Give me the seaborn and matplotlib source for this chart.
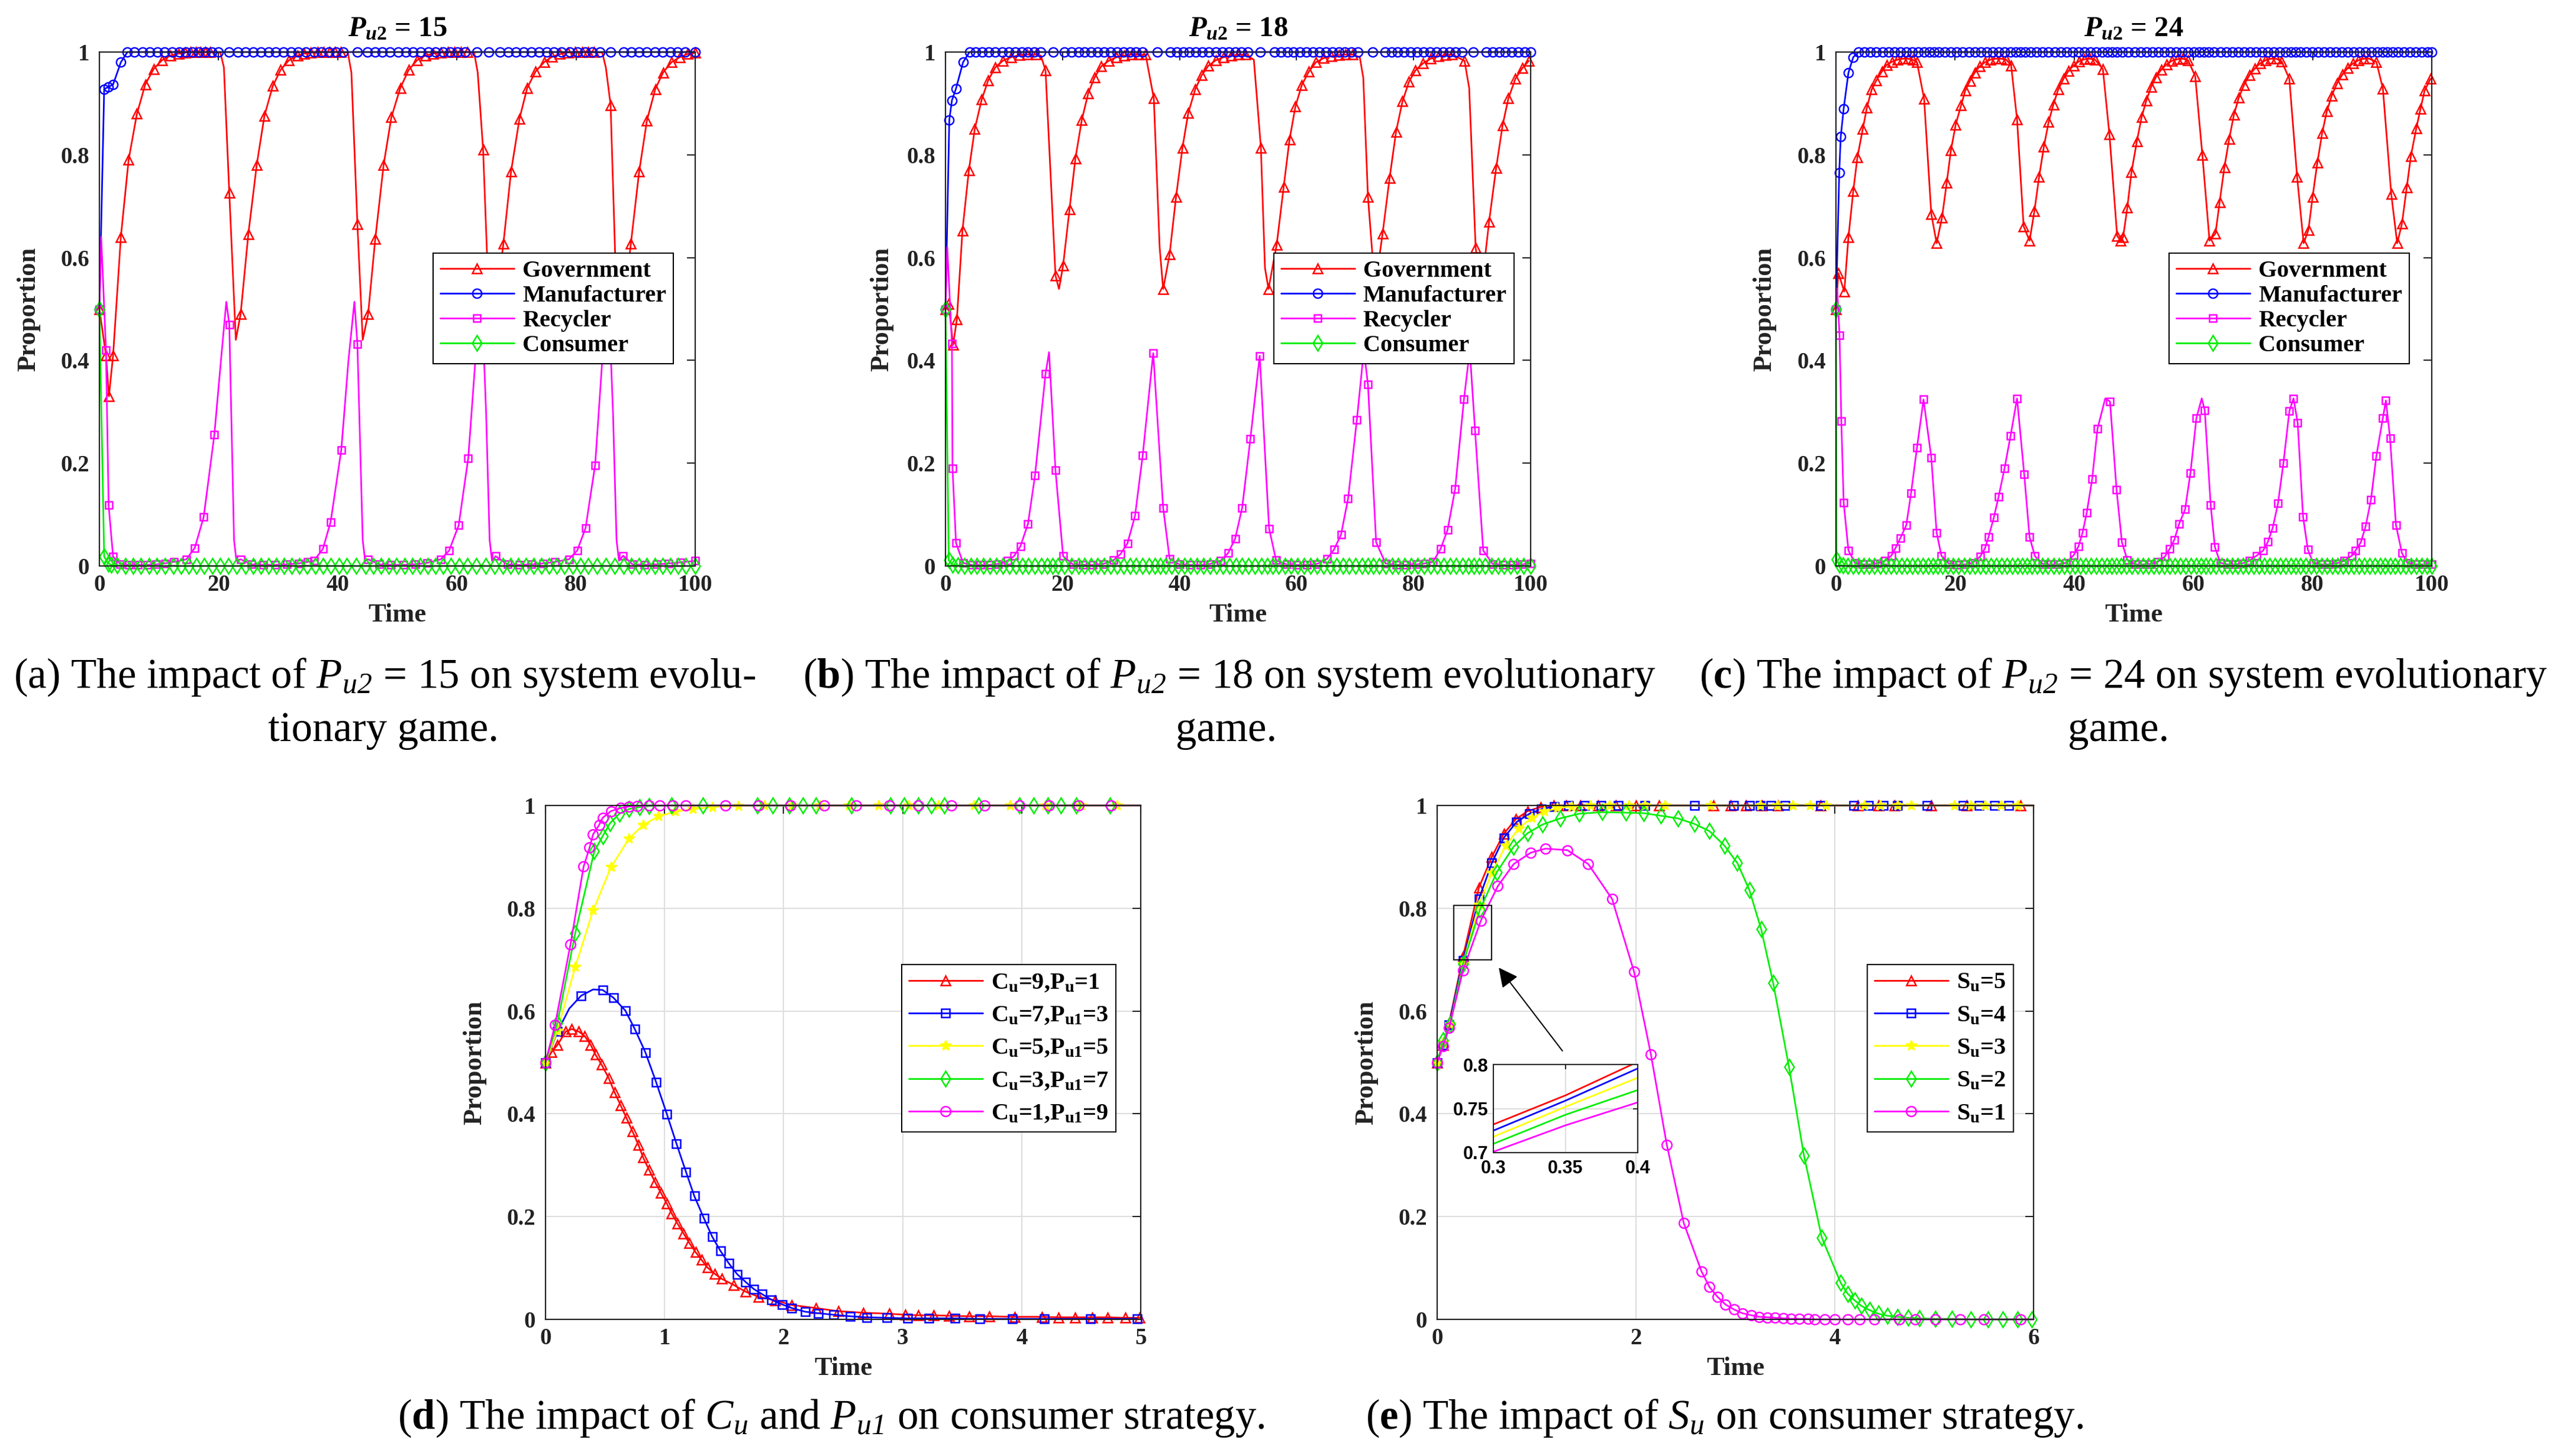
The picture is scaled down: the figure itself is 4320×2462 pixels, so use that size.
import numpy as np
import matplotlib
matplotlib.use('Agg')
import matplotlib.pyplot as plt
import seaborn as sns
from matplotlib.lines import Line2D
from matplotlib.patches import Rectangle

# ---------------- panel (a): P_u2 = 15 ----------------
gov_a_t = [0, 1.1, 1.6, 2.3, 3.6, 4.9, 6.3, 7.7, 9.1, 10.5,
           11.9, 13.3, 14.4, 15.3, 16.2, 17.0, 17.8, 18.6, 21.8, 23.7,
           25.0, 26.4, 27.7, 29.1, 30.4, 31.8, 33.3, 34.4, 35.5, 36.6,
           37.6, 38.6, 39.5, 40.5, 43.3, 45.1, 46.3, 47.7, 49.0, 50.5,
           51.9, 53.3, 54.7, 56.0, 57.3, 58.5, 59.6, 60.7, 61.8, 64.4,
           67.8, 69.1, 70.5, 71.8, 73.2, 74.7, 76.0, 77.3, 78.6, 79.8,
           81.0, 82.0, 83.0, 85.8, 89.2, 90.6, 91.9, 93.3, 94.6, 96.0,
           97.4, 98.7, 100]
gov_a_y = [0.5, 0.41, 0.33, 0.41, 0.64, 0.79, 0.88, 0.937, 0.967, 0.984,
           0.993, 0.997, 0.999, 1.0, 1.0, 1.0, 1.0, 1.0, 0.726, 0.49,
           0.646, 0.78, 0.876, 0.934, 0.965, 0.984, 0.993, 0.997, 0.999, 1.0,
           1.0, 1.0, 1.0, 1.0, 0.665, 0.49, 0.636, 0.78, 0.873, 0.93,
           0.965, 0.984, 0.993, 0.997, 0.999, 1.0, 1.0, 1.0, 1.0, 0.81,
           0.627, 0.768, 0.87, 0.93, 0.962, 0.981, 0.991, 0.996, 0.999, 1.0,
           1.0, 1.0, 1.0, 0.897, 0.627, 0.768, 0.867, 0.928, 0.96, 0.98,
           0.99, 0.996, 0.999]
gov_a_xt = [20.3, 20.9, 22.9, 41.7, 42.3, 44.2, 62.9, 63.5, 65.6, 66.5, 84.4, 85.0, 87.0, 88.0]
gov_a_xy = [0.999, 0.97, 0.44, 0.999, 0.96, 0.44, 0.999, 0.96, 0.44, 0.5, 0.999, 0.97, 0.44, 0.5]

man_a_t = [0, 0.8, 1.5, 2.3, 3.6, 4.7, 5.9, 7.2, 8.4, 9.7,
           10.9, 12.2, 13.4, 14.5, 15.6, 16.7, 17.8, 18.9, 20.0, 21.7,
           23.2, 24.5, 25.8, 27.1, 28.4, 29.6, 30.9, 32.2, 33.4, 34.7,
           36.0, 37.2, 38.5, 39.7, 40.9, 43.3, 45.0, 46.3, 47.5, 48.8,
           50.1, 51.4, 52.6, 53.9, 55.2, 56.4, 57.7, 58.9, 60.1, 61.4,
           63.4, 65.3, 67.2, 68.6, 69.9, 71.2, 72.5, 73.8, 75.1, 76.3,
           77.6, 78.9, 80.2, 81.5, 82.7, 84.0, 85.8, 88.0, 89.3, 90.6,
           91.9, 93.2, 94.5, 95.8, 97.0, 98.3, 100]
man_a_y = [0.5, 0.928, 0.932, 0.937, 0.98, 1, 1, 1, 1, 1,
           1, 1, 1, 1, 1, 1, 1, 1, 1, 1,
           1, 1, 1, 1, 1, 1, 1, 1, 1, 1,
           1, 1, 1, 1, 1, 1, 1, 1, 1, 1,
           1, 1, 1, 1, 1, 1, 1, 1, 1, 1,
           1, 1, 1, 1, 1, 1, 1, 1, 1, 1,
           1, 1, 1, 1, 1, 1, 1, 1, 1, 1,
           1, 1, 1, 1, 1, 1, 1]

rec_a_t = [0, 1.1, 1.55, 2.3, 3.5, 5.0, 6.5, 8.0, 9.5, 11.0,
           12.5, 14.6, 16.0, 17.5, 19.3, 21.8, 23.7, 25.5, 27.5, 29.5,
           31.5, 33.5, 35.0, 36.0, 37.5, 38.8, 40.6, 43.3, 45.1, 47.0,
           49.0, 51.0, 53.0, 55.0, 57.3, 58.7, 60.3, 61.9, 66.5, 68.5,
           70.5, 72.5, 74.5, 76.5, 78.8, 80.2, 81.6, 83.2, 87.9, 89.5,
           91.5, 93.5, 95.5, 97.5, 100]
rec_a_y = [0.5, 0.42, 0.118, 0.018, 0.004, 0.002, 0.002, 0.002, 0.003, 0.005,
           0.008, 0.013, 0.035, 0.095, 0.256, 0.47, 0.013, 0.003, 0.002, 0.002,
           0.003, 0.005, 0.008, 0.01, 0.033, 0.085, 0.226, 0.432, 0.013, 0.003,
           0.002, 0.002, 0.003, 0.006, 0.013, 0.03, 0.079, 0.209, 0.019, 0.003,
           0.002, 0.003, 0.005, 0.008, 0.013, 0.03, 0.074, 0.196, 0.02, 0.003,
           0.002, 0.003, 0.005, 0.007, 0.01]
rec_a_xt = [0.3, 20.4, 21.3, 22.6, 23.0, 41.8, 42.8, 44.2, 44.6, 63.1, 64.2, 64.9, 65.5, 65.9,
            84.4, 85.5, 86.2, 86.8, 87.2]
rec_a_xy = [0.64, 0.40, 0.514, 0.05, 0.01, 0.40, 0.514, 0.05, 0.01, 0.40, 0.51, 0.30, 0.05, 0.01,
            0.40, 0.51, 0.30, 0.05, 0.01]

con_a_t = [0, 0.8, 1.5, 2.0, 3.0, 4.4, 5.7, 7.0, 8.3, 9.6,
           11.0, 12.4, 13.7, 15.0, 16.3, 17.6, 19.0, 20.3, 21.6, 23.0,
           24.5, 25.8, 27.1, 28.4, 29.7, 31.0, 32.3, 33.6, 34.9, 36.2,
           37.5, 38.8, 40.2, 41.5, 43.1, 44.7, 46.0, 47.3, 48.6, 49.9,
           51.2, 52.5, 53.8, 55.1, 56.4, 57.7, 59.0, 60.4, 61.8, 63.3,
           64.8, 66.3, 67.7, 69.0, 70.3, 71.6, 72.9, 74.2, 75.5, 76.8,
           78.1, 79.4, 80.7, 82.0, 83.5, 85.0, 86.5, 88.0, 89.3, 90.6,
           91.9, 93.2, 94.5, 95.8, 97.1, 98.4, 100]
con_a_y = [0.5, 0.018, 0.005, 0.002, 0.001, 0, 0, 0, 0, 0,
           0, 0, 0, 0, 0, 0, 0, 0, 0, 0,
           0, 0, 0, 0, 0, 0, 0, 0, 0, 0,
           0, 0, 0, 0, 0, 0, 0, 0, 0, 0,
           0, 0, 0, 0, 0, 0, 0, 0, 0, 0,
           0, 0, 0, 0, 0, 0, 0, 0, 0, 0,
           0, 0, 0, 0, 0, 0, 0, 0, 0, 0,
           0, 0, 0, 0, 0, 0, 0]

# ---------------- panel (b): P_u2 = 18 ----------------
gov_b_t = [0, 0.55, 1.3, 1.95, 2.9, 4.0, 5.0, 6.2, 7.3, 8.5,
           9.8, 11.2, 12.6, 14.0, 15.5, 17.1, 18.8, 20.1, 21.2, 22.2,
           23.3, 24.4, 25.5, 26.6, 27.9, 29.2, 30.5, 31.8, 33.0, 34.2,
           35.6, 37.2, 38.3, 39.4, 40.5, 41.5, 42.7, 43.8, 44.9, 46.2,
           47.5, 48.8, 50.0, 51.3, 53.9, 55.2, 56.6, 57.8, 58.8, 59.8,
           60.9, 62.1, 63.3, 64.6, 65.9, 67.2, 68.4, 69.6, 72.2, 74.7,
           75.9, 77.0, 78.1, 79.2, 80.3, 81.6, 82.9, 84.2, 85.4, 86.6,
           88.7, 90.6, 92.9, 94.1, 95.2, 96.2, 97.4, 98.6, 99.7]
gov_b_y = [0.5, 0.51, 0.43, 0.48, 0.653, 0.77, 0.85, 0.908, 0.945, 0.97,
           0.983, 0.99, 0.994, 0.995, 0.995, 0.964, 0.565, 0.585, 0.694, 0.793,
           0.868, 0.92, 0.951, 0.972, 0.983, 0.99, 0.993, 0.995, 0.995, 0.995,
           0.91, 0.539, 0.606, 0.718, 0.814, 0.882, 0.928, 0.955, 0.973, 0.984,
           0.99, 0.993, 0.995, 0.995, 0.814, 0.539, 0.625, 0.738, 0.83, 0.894,
           0.936, 0.962, 0.98, 0.988, 0.992, 0.994, 0.995, 0.995, 0.718, 0.647,
           0.755, 0.845, 0.904, 0.942, 0.964, 0.978, 0.987, 0.992, 0.994, 0.995,
           0.983, 0.619, 0.67, 0.774, 0.857, 0.91, 0.948, 0.969, 0.983]
gov_b_xt = [16.3, 19.4, 36.6, 52.7, 54.6, 70.8, 71.4, 73.4, 89.5, 91.6]
gov_b_xy = [0.993, 0.539, 0.62, 0.985, 0.58, 0.99, 0.95, 0.54, 0.93, 0.54]

man_b_t = [0, 0.65, 1.1, 1.8, 3.0, 4.1, 5.2, 6.3, 7.4, 8.5,
           9.7, 10.8, 11.9, 13.0, 14.1, 15.2, 16.3, 18.4, 20.3, 21.5,
           22.7, 23.8, 24.9, 26.0, 27.1, 28.2, 29.3, 30.4, 31.5, 32.6,
           33.7, 36.2, 38.4, 39.5, 40.6, 41.7, 42.8, 43.9, 45.0, 46.2,
           47.3, 48.4, 49.5, 50.6, 51.7, 53.8, 56.2, 57.3, 58.4, 59.5,
           60.6, 61.7, 62.8, 63.9, 65.0, 66.1, 67.2, 68.3, 69.4, 70.5,
           73.0, 75.1, 76.2, 77.3, 78.4, 79.5, 80.6, 81.7, 82.8, 83.9,
           85.0, 86.1, 87.2, 88.3, 90.2, 92.4, 93.5, 94.6, 95.7, 96.8,
           97.9, 99.0, 100]
man_b_y = [0.5, 0.868, 0.906, 0.929, 0.98, 1, 1, 1, 1, 1,
           1, 1, 1, 1, 1, 1, 1, 1, 1, 1,
           1, 1, 1, 1, 1, 1, 1, 1, 1, 1,
           1, 1, 1, 1, 1, 1, 1, 1, 1, 1,
           1, 1, 1, 1, 1, 1, 1, 1, 1, 1,
           1, 1, 1, 1, 1, 1, 1, 1, 1, 1,
           1, 1, 1, 1, 1, 1, 1, 1, 1, 1,
           1, 1, 1, 1, 1, 1, 1, 1, 1, 1,
           1, 1, 1]

rec_b_t = [0, 1.1, 1.2, 1.8, 3.0, 4.5, 6.0, 7.5, 9.0, 10.6,
           11.7, 12.8, 14.1, 15.3, 17.1, 18.8, 20.1, 21.8, 23.5, 25.2,
           27.0, 28.7, 29.9, 31.1, 32.4, 33.7, 35.5, 37.2, 38.3, 40.0,
           41.8, 43.6, 45.3, 47.0, 48.3, 49.5, 50.7, 52.1, 53.7, 55.3,
           56.5, 58.3, 60.0, 61.8, 63.5, 65.2, 66.4, 67.6, 68.8, 70.3,
           72.2, 73.6, 75.2, 77.0, 78.8, 80.5, 82.0, 83.3, 84.6, 85.8,
           87.1, 88.6, 90.5, 91.9, 93.5, 95.2, 97.0, 98.5, 100]
rec_b_y = [0.5, 0.433, 0.19, 0.045, 0.006, 0.002, 0.002, 0.002, 0.004, 0.01,
           0.019, 0.038, 0.082, 0.176, 0.374, 0.186, 0.019, 0.003, 0.002, 0.002,
           0.004, 0.011, 0.023, 0.044, 0.098, 0.215, 0.414, 0.113, 0.014, 0.003,
           0.002, 0.002, 0.004, 0.01, 0.025, 0.053, 0.113, 0.247, 0.409, 0.073,
           0.011, 0.003, 0.002, 0.002, 0.004, 0.014, 0.032, 0.061, 0.131, 0.284,
           0.353, 0.046, 0.005, 0.002, 0.002, 0.003, 0.005, 0.008, 0.033, 0.07,
           0.15, 0.324, 0.263, 0.03, 0.004, 0.002, 0.002, 0.003, 0.005]
rec_b_xt = [0.3, 17.7, 71.5, 89.6]
rec_b_xy = [0.62, 0.416, 0.42, 0.42]

con_b_t = [0, 0.56, 1.2, 2.1, 3.2, 4.3, 5.4, 6.5, 7.6, 8.7,
           9.8, 10.9, 12.0, 13.1, 14.2, 15.3, 16.4, 17.4, 18.3, 19.2,
           20.3, 21.5, 22.7, 23.8, 24.9, 26.0, 27.1, 28.2, 29.3, 30.4,
           31.5, 32.6, 33.7, 34.8, 35.8, 36.7, 37.6, 38.6, 39.7, 40.8,
           41.9, 43.0, 44.1, 45.2, 46.3, 47.4, 48.5, 49.6, 50.7, 51.8,
           52.9, 54.0, 55.0, 55.9, 56.9, 58.0, 59.1, 60.2, 61.3, 62.4,
           63.5, 64.6, 65.7, 66.8, 67.9, 69.0, 70.1, 71.2, 72.2, 73.1,
           74.1, 75.2, 76.3, 77.4, 78.5, 79.6, 80.7, 81.8, 82.9, 84.0,
           85.1, 86.2, 87.3, 88.4, 89.4, 90.3, 91.2, 92.2, 93.3, 94.4,
           95.5, 96.6, 97.7, 98.8, 100]
con_b_y = [0.5, 0.011, 0.002, 0.001, 0, 0, 0, 0, 0, 0,
           0, 0, 0, 0, 0, 0, 0, 0, 0, 0,
           0, 0, 0, 0, 0, 0, 0, 0, 0, 0,
           0, 0, 0, 0, 0, 0, 0, 0, 0, 0,
           0, 0, 0, 0, 0, 0, 0, 0, 0, 0,
           0, 0, 0, 0, 0, 0, 0, 0, 0, 0,
           0, 0, 0, 0, 0, 0, 0, 0, 0, 0,
           0, 0, 0, 0, 0, 0, 0, 0, 0, 0,
           0, 0, 0, 0, 0, 0, 0, 0, 0, 0,
           0, 0, 0, 0, 0]

# ---------------- panel (c): P_u2 = 24 ----------------
gov_c_t = [0, 0.4, 1.4, 2.1, 2.9, 3.6, 4.5, 5.2, 6.0, 6.8,
           7.7, 8.5, 9.4, 10.3, 11.2, 12.1, 12.9, 13.6, 14.8, 16.0,
           16.9, 17.8, 18.6, 19.3, 20.1, 21.0, 21.7, 22.5, 23.3, 24.1,
           25.0, 25.9, 26.8, 27.7, 28.6, 29.4, 30.4, 31.5, 32.5, 33.3,
           34.1, 34.9, 35.7, 36.5, 37.3, 38.2, 39.0, 39.9, 40.8, 41.7,
           42.6, 43.5, 44.8, 45.9, 47.2, 47.8, 48.2, 48.9, 49.6, 50.5,
           51.3, 52.1, 52.9, 53.7, 54.6, 55.5, 56.4, 57.3, 58.2, 59.1,
           60.3, 61.5, 62.7, 63.7, 64.4, 65.2, 66.0, 66.8, 67.6, 68.5,
           69.4, 70.3, 71.2, 72.1, 73.0, 73.9, 74.8, 76.1, 77.4, 78.5,
           79.3, 80.0, 80.8, 81.6, 82.4, 83.2, 84.1, 85.0, 85.9, 86.8,
           87.7, 88.6, 89.5, 90.7, 91.8, 93.2, 94.2, 95.0, 95.8, 96.5,
           97.4, 98.1, 98.8, 99.8]
gov_c_y = [0.5, 0.57, 0.534, 0.64, 0.729, 0.795, 0.85, 0.892, 0.927, 0.945,
           0.962, 0.975, 0.981, 0.985, 0.987, 0.987, 0.985, 0.98, 0.909, 0.685,
           0.628, 0.678, 0.746, 0.809, 0.859, 0.896, 0.925, 0.944, 0.96, 0.972,
           0.98, 0.985, 0.987, 0.987, 0.985, 0.974, 0.869, 0.661, 0.633, 0.69,
           0.757, 0.816, 0.864, 0.898, 0.927, 0.948, 0.963, 0.974, 0.982, 0.986,
           0.987, 0.985, 0.967, 0.84, 0.642, 0.633, 0.64, 0.697, 0.766, 0.826,
           0.873, 0.906, 0.932, 0.951, 0.966, 0.976, 0.983, 0.986, 0.987, 0.984,
           0.953, 0.8, 0.633, 0.647, 0.708, 0.776, 0.831, 0.878, 0.911, 0.936,
           0.955, 0.968, 0.978, 0.984, 0.987, 0.987, 0.982, 0.948, 0.757, 0.628,
           0.654, 0.718, 0.785, 0.842, 0.885, 0.915, 0.939, 0.956, 0.969, 0.978,
           0.984, 0.987, 0.987, 0.981, 0.929, 0.724, 0.628, 0.666, 0.736, 0.798,
           0.851, 0.889, 0.925, 0.948]
gov_c_xt = []
gov_c_xy = []

man_c_t = [0, 0.55, 0.8, 1.3, 2.1, 2.9, 3.8, 4.8, 5.8, 6.8,
           7.8, 8.8, 9.8, 10.8, 11.8, 12.8, 13.8, 14.8, 15.7, 16.5,
           17.3, 18.3, 19.3, 20.3, 21.3, 22.3, 23.3, 24.3, 25.3, 26.3,
           27.3, 28.3, 29.3, 30.2, 31.0, 31.8, 32.7, 33.7, 34.7, 35.7,
           36.7, 37.7, 38.7, 39.7, 40.7, 41.7, 42.7, 43.7, 44.7, 45.6,
           46.4, 47.2, 48.1, 49.1, 50.1, 51.1, 52.1, 53.1, 54.1, 55.1,
           56.1, 57.1, 58.1, 59.1, 60.1, 61.0, 61.8, 62.6, 63.5, 64.5,
           65.5, 66.5, 67.5, 68.5, 69.5, 70.5, 71.5, 72.5, 73.5, 74.5,
           75.5, 76.4, 77.2, 78.0, 78.9, 79.9, 80.9, 81.9, 82.9, 83.9,
           84.9, 85.9, 86.9, 87.9, 88.9, 89.9, 90.9, 91.8, 92.6, 93.4,
           94.3, 95.3, 96.3, 97.3, 98.3, 99.3, 100]
man_c_y = [0.5, 0.765, 0.835, 0.89, 0.96, 0.99, 1, 1, 1, 1,
           1, 1, 1, 1, 1, 1, 1, 1, 1, 1,
           1, 1, 1, 1, 1, 1, 1, 1, 1, 1,
           1, 1, 1, 1, 1, 1, 1, 1, 1, 1,
           1, 1, 1, 1, 1, 1, 1, 1, 1, 1,
           1, 1, 1, 1, 1, 1, 1, 1, 1, 1,
           1, 1, 1, 1, 1, 1, 1, 1, 1, 1,
           1, 1, 1, 1, 1, 1, 1, 1, 1, 1,
           1, 1, 1, 1, 1, 1, 1, 1, 1, 1,
           1, 1, 1, 1, 1, 1, 1, 1, 1, 1,
           1, 1, 1, 1, 1, 1, 1]

rec_c_t = [0, 0.6, 0.9, 1.3, 2.1, 3.2, 4.5, 5.8, 7.0, 8.2,
           9.3, 10.0, 10.8, 11.8, 12.6, 13.6, 14.7, 16.0, 16.9, 17.7,
           19.0, 20.3, 21.6, 22.9, 24.2, 25.0, 25.6, 26.5, 27.3, 28.3,
           29.3, 30.4, 31.6, 32.5, 33.4, 34.7, 36.0, 37.3, 38.6, 39.9,
           40.7, 41.4, 42.1, 43.0, 43.9, 46.0, 47.1, 48.0, 48.9, 50.2,
           51.5, 52.8, 54.0, 55.2, 56.0, 56.8, 57.6, 58.6, 59.5, 60.5,
           61.9, 62.9, 63.6, 64.5, 65.8, 67.0, 68.2, 69.4, 70.6, 71.7,
           72.5, 73.3, 74.2, 75.1, 76.1, 76.8, 77.5, 78.4, 79.2, 80.1,
           81.4, 82.7, 84.0, 85.3, 86.6, 87.2, 88.1, 88.9, 89.8, 90.7,
           91.8, 92.3, 93.0, 94.0, 95.0, 95.9, 97.2, 98.5, 100]
rec_c_y = [0.5, 0.449, 0.282, 0.123, 0.03, 0.006, 0.003, 0.003, 0.005, 0.01,
           0.02, 0.035, 0.054, 0.079, 0.141, 0.23, 0.324, 0.211, 0.065, 0.02,
           0.004, 0.002, 0.003, 0.006, 0.018, 0.034, 0.056, 0.094, 0.135, 0.19,
           0.253, 0.326, 0.178, 0.056, 0.019, 0.004, 0.003, 0.003, 0.006, 0.021,
           0.038, 0.065, 0.104, 0.169, 0.267, 0.32, 0.148, 0.046, 0.012, 0.003,
           0.003, 0.004, 0.008, 0.018, 0.033, 0.051, 0.082, 0.11, 0.181, 0.288,
           0.303, 0.118, 0.037, 0.006, 0.003, 0.003, 0.005, 0.01, 0.02, 0.03,
           0.047, 0.074, 0.122, 0.2, 0.301, 0.326, 0.278, 0.096, 0.032, 0.006,
           0.003, 0.003, 0.005, 0.01, 0.02, 0.03, 0.046, 0.077, 0.129, 0.214,
           0.288, 0.322, 0.249, 0.079, 0.025, 0.006, 0.003, 0.003, 0.004]
rec_c_xt = [0.2, 45.2, 61.4]
rec_c_xy = [0.54, 0.326, 0.326]

con_c_t = [0, 0.1, 0.6, 1.2, 2.0, 2.9, 3.8, 4.7, 5.6, 6.5,
           7.4, 8.3, 9.2, 10.1, 11.0, 11.9, 12.8, 13.7, 14.6, 15.5,
           16.3, 17.1, 17.9, 18.8, 19.7, 20.6, 21.5, 22.4, 23.3, 24.2,
           25.1, 26.0, 26.9, 27.8, 28.7, 29.6, 30.5, 31.3, 32.1, 32.9,
           33.8, 34.7, 35.6, 36.5, 37.4, 38.3, 39.2, 40.1, 41.0, 41.9,
           42.8, 43.7, 44.6, 45.5, 46.3, 47.1, 47.9, 48.8, 49.7, 50.6,
           51.5, 52.4, 53.3, 54.2, 55.1, 56.0, 56.9, 57.8, 58.7, 59.6,
           60.5, 61.3, 62.1, 62.9, 63.8, 64.7, 65.6, 66.5, 67.4, 68.3,
           69.2, 70.1, 71.0, 71.9, 72.8, 73.7, 74.6, 75.5, 76.4, 77.2,
           78.0, 78.8, 79.7, 80.6, 81.5, 82.4, 83.3, 84.2, 85.1, 86.0,
           86.9, 87.8, 88.7, 89.6, 90.5, 91.4, 92.2, 93.0, 93.8, 94.7,
           95.6, 96.5, 97.4, 98.3, 99.2, 100]
con_c_y = [0.5, 0.013, 0.002, 0.001, 0, 0, 0, 0, 0, 0,
           0, 0, 0, 0, 0, 0, 0, 0, 0, 0,
           0, 0, 0, 0, 0, 0, 0, 0, 0, 0,
           0, 0, 0, 0, 0, 0, 0, 0, 0, 0,
           0, 0, 0, 0, 0, 0, 0, 0, 0, 0,
           0, 0, 0, 0, 0, 0, 0, 0, 0, 0,
           0, 0, 0, 0, 0, 0, 0, 0, 0, 0,
           0, 0, 0, 0, 0, 0, 0, 0, 0, 0,
           0, 0, 0, 0, 0, 0, 0, 0, 0, 0,
           0, 0, 0, 0, 0, 0, 0, 0, 0, 0,
           0, 0, 0, 0, 0, 0, 0, 0, 0, 0,
           0, 0, 0, 0, 0, 0]

# ---------------- panel (d): C_u and P_u1 ----------------
d1_t = [0, 0.05, 0.1, 0.17, 0.22, 0.28, 0.33, 0.38, 0.42, 0.47,
        0.53, 0.58, 0.63, 0.68, 0.73, 0.78, 0.82, 0.87, 0.92, 0.97,
        1.02, 1.06, 1.11, 1.16, 1.21, 1.26, 1.31, 1.36, 1.42, 1.48,
        1.58, 1.68, 1.79, 1.93, 2.07, 2.27, 2.46, 2.67, 2.89, 3.02,
        3.13, 3.26, 3.39, 3.56, 3.73, 3.94, 4.17, 4.31, 4.45, 4.59,
        4.72, 4.87, 4.99]
d1_y = [0.5, 0.52, 0.534, 0.56, 0.565, 0.56, 0.551, 0.534, 0.515, 0.496,
        0.47, 0.442, 0.417, 0.392, 0.366, 0.34, 0.315, 0.291, 0.267, 0.246,
        0.225, 0.206, 0.186, 0.167, 0.148, 0.131, 0.116, 0.101, 0.089, 0.079,
        0.067, 0.054, 0.044, 0.037, 0.028, 0.022, 0.016, 0.013, 0.011, 0.009,
        0.008, 0.008, 0.007, 0.006, 0.006, 0.005, 0.005, 0.004, 0.004, 0.004,
        0.004, 0.003, 0.003]
d2_t = [0, 0.1, 0.3, 0.48, 0.57, 0.67, 0.75, 0.84, 0.93, 1.02,
        1.1, 1.18, 1.25, 1.33, 1.4, 1.47, 1.54, 1.61, 1.68, 1.75,
        1.82, 1.9, 1.99, 2.07, 2.18, 2.29, 2.42, 2.56, 2.7, 2.87,
        3.04, 3.22, 3.44, 3.65, 3.92, 4.19, 4.58, 4.97]
d2_y = [0.5, 0.56, 0.63, 0.641, 0.626, 0.601, 0.565, 0.519, 0.461, 0.399,
        0.342, 0.287, 0.24, 0.197, 0.161, 0.133, 0.109, 0.088, 0.073, 0.059,
        0.049, 0.038, 0.029, 0.022, 0.015, 0.012, 0.009, 0.006, 0.004, 0.003,
        0.002, 0.002, 0.002, 0.001, 0.001, 0.001, 0.001, 0.001]
d3_t = [0, 0.1, 0.25, 0.4, 0.55, 0.7, 0.82, 0.95, 1.09, 1.24,
        1.4, 1.62, 1.84, 2.07, 2.3, 2.55, 2.8, 3.05, 3.3, 3.6,
        3.9, 4.2, 4.5, 4.8]
d3_y = [0.5, 0.562, 0.686, 0.796, 0.88, 0.935, 0.962, 0.979, 0.988, 0.993,
        0.997, 0.999, 1, 1, 1, 1, 1, 1, 1, 1,
        1, 1, 1, 1]
d4_t = [0, 0.1, 0.25, 0.41, 0.48, 0.54, 0.62, 0.7, 0.79, 0.87,
        1.06, 1.32, 1.78, 1.91, 2.05, 2.16, 2.27, 2.57, 2.9, 3.01,
        3.13, 3.24, 3.35, 3.64, 3.98, 4.1, 4.22, 4.33, 4.46, 4.74]
d4_y = [0.5, 0.577, 0.752, 0.911, 0.94, 0.965, 0.984, 0.993, 0.997, 0.999,
        1, 1, 1, 1, 1, 1, 1, 1, 1, 1,
        1, 1, 1, 1, 1, 1, 1, 1, 1, 1]
d5_t = [0, 0.08, 0.21, 0.32, 0.37, 0.4, 0.45, 0.48, 0.55, 0.63,
        0.7, 0.77, 0.87, 0.96, 1.07, 1.18, 1.51, 1.79, 2.06, 2.34,
        2.61, 2.89, 3.13, 3.41, 3.69, 3.98, 4.23, 4.48, 4.75]
d5_y = [0.5, 0.573, 0.73, 0.881, 0.918, 0.944, 0.962, 0.976, 0.989, 0.995,
        0.998, 0.999, 1, 1, 1, 1, 1, 1, 1, 1,
        1, 1, 1, 1, 1, 1, 1, 1, 1]
d_ext_t = [[], [0.2, 0.4], [5.0], [5.0], [5.0]]
d_ext_y = [[], [0.605, 0.642], [1.0], [1.0], [1.0]]
d_labels = [r'C$_\mathrm{u}$=9,P$_\mathrm{u}$=1', r'C$_\mathrm{u}$=7,P$_\mathrm{u1}$=3',
            r'C$_\mathrm{u}$=5,P$_\mathrm{u1}$=5', r'C$_\mathrm{u}$=3,P$_\mathrm{u1}$=7',
            r'C$_\mathrm{u}$=1,P$_\mathrm{u1}$=9']

# ---------------- panel (e): S_u ----------------
e1_t = [0, 0.06, 0.12, 0.26, 0.42, 0.55, 0.67, 0.79, 0.91, 1.04,
        1.17, 1.3, 1.44, 1.62, 1.8, 2.0, 2.23, 2.78, 2.95, 3.11,
        3.27, 3.43, 3.86, 4.23, 4.44, 4.6, 4.97, 5.33, 5.87]
e1_y = [0.5, 0.534, 0.577, 0.706, 0.84, 0.9, 0.945, 0.973, 0.989, 0.997,
        1, 1, 1, 1, 1, 1, 1, 1, 1, 1,
        1, 1, 1, 1, 1, 1, 1, 1, 1]
e2_t = [0, 0.06, 0.12, 0.26, 0.42, 0.55, 0.67, 0.8, 0.93, 1.05,
        1.18, 1.32, 1.48, 1.65, 1.82, 2.09, 2.59, 2.98, 3.14, 3.25,
        3.36, 3.5, 3.86, 4.19, 4.34, 4.49, 4.63, 4.93, 5.29, 5.45,
        5.61, 5.75]
e2_y = [0.5, 0.534, 0.573, 0.699, 0.818, 0.888, 0.937, 0.968, 0.984, 0.993,
        0.998, 1, 1, 1, 1, 1, 1, 1, 1, 1,
        1, 1, 1, 1, 1, 1, 1, 1, 1, 1,
        1, 1]
e3_t = [0, 0.06, 0.13, 0.26, 0.42, 0.55, 0.69, 0.82, 0.95, 1.08,
        1.21, 1.35, 1.54, 1.73, 1.93, 2.09, 2.29, 2.75, 3.25, 3.42,
        3.58, 3.75, 3.91, 4.3, 4.46, 4.63, 4.77, 5.2, 5.37, 5.51,
        5.67, 5.84]
e3_y = [0.5, 0.538, 0.574, 0.692, 0.807, 0.869, 0.922, 0.955, 0.976, 0.988,
        0.995, 0.998, 1, 1, 1, 1, 1, 1, 1, 1,
        1, 1, 1, 1, 1, 1, 1, 1, 1, 1,
        1, 1]
e4_t = [0, 0.06, 0.13, 0.26, 0.43, 0.6, 0.77, 0.91, 1.06, 1.24,
        1.43, 1.66, 1.9, 2.08, 2.25, 2.42, 2.59, 2.74, 2.89, 3.02,
        3.14, 3.26, 3.38, 3.54, 3.69, 3.87, 4.06, 4.13, 4.2, 4.27,
        4.35, 4.44, 4.53, 4.63, 4.74, 4.85, 5.01, 5.18, 5.37, 5.54,
        5.69, 5.84, 5.98]
e4_y = [0.5, 0.543, 0.574, 0.692, 0.797, 0.87, 0.92, 0.946, 0.963, 0.975,
        0.984, 0.987, 0.986, 0.985, 0.98, 0.975, 0.964, 0.95, 0.922, 0.888,
        0.836, 0.759, 0.655, 0.491, 0.319, 0.159, 0.071, 0.05, 0.037, 0.026,
        0.018, 0.011, 0.007, 0.005, 0.003, 0.002, 0.001, 0.001, 0, 0,
        0, 0, 0]
e5_t = [0, 0.06, 0.12, 0.26, 0.44, 0.61, 0.77, 0.94, 1.09, 1.31,
        1.52, 1.76, 1.98, 2.15, 2.31, 2.48, 2.66, 2.74, 2.82, 2.9,
        2.99, 3.07, 3.16, 3.24, 3.32, 3.4, 3.48, 3.56, 3.64, 3.73,
        3.8, 3.9, 4.0, 4.13, 4.25, 4.4, 4.65, 4.81, 5.01, 5.26,
        5.5, 5.87]
e5_y = [0.5, 0.532, 0.567, 0.679, 0.776, 0.843, 0.886, 0.908, 0.916, 0.913,
        0.886, 0.818, 0.677, 0.516, 0.34, 0.188, 0.093, 0.063, 0.044, 0.029,
        0.019, 0.012, 0.008, 0.005, 0.004, 0.003, 0.002, 0.001, 0.001, 0.001,
        0, 0, 0, 0, 0, 0, 0, 0, 0, 0,
        0, 0]
e_ext_t = [[6.0], [6.0], [6.0], [], [6.0]]
e_ext_y = [[1.0], [1.0], [1.0], [], [0.0]]
e_labels = [r'S$_\mathrm{u}$=5', r'S$_\mathrm{u}$=4', r'S$_\mathrm{u}$=3',
            r'S$_\mathrm{u}$=2', r'S$_\mathrm{u}$=1']

# zoomed inset of (e)
ins_t = [0.3, 0.35, 0.4]
ins_y = [[0.732, 0.765, 0.803], [0.725, 0.759, 0.7955], [0.718, 0.752, 0.785],
         [0.710, 0.743, 0.771], [0.701, 0.731, 0.757]]

titles_top = [r'$P_{u2}$ = 15', r'$P_{u2}$ = 18', r'$P_{u2}$ = 24']
players = ['Government', 'Manufacturer', 'Recycler', 'Consumer']
y_ticks = [0, 0.2, 0.4, 0.6, 0.8, 1]
y_tick_labels = ['0', '0.2', '0.4', '0.6', '0.8', '1']

# ---------------- style ----------------
sns.set_theme(style='white')
plt.rcParams['font.family'] = ['Liberation Serif', 'DejaVu Serif']
plt.rcParams.update({
    'font.weight': 'bold',
    'axes.labelweight': 'bold',
    'mathtext.fontset': 'custom',
    'mathtext.rm': 'Liberation Serif:bold',
    'mathtext.it': 'Liberation Serif:italic:bold',
    'mathtext.bf': 'Liberation Serif:bold',
    'mathtext.sf': 'Liberation Serif:italic:normal',
    'axes.edgecolor': 'black',
    'xtick.color': 'black',
    'ytick.color': 'black',
    'text.color': 'black',
    'axes.labelcolor': '#222222',
})

RED, BLUE, MAG, GRN, YEL = '#ff0000', '#0000ff', '#ff00ff', '#00ee00', '#ffff00'
W, H = 4320, 2462


def px_box(l, r, t, b):
    return [l / W, 1 - b / H, (r - l) / W, (b - t) / H]


def draw(ax, t, y, xt, xy, color, marker, ms, filled=False, lw=2.0):
    n = min(len(t), len(y))
    t_all = np.concatenate([np.asarray(t[:n], float), np.asarray(xt, float)])
    y_all = np.concatenate([np.asarray(y[:n], float), np.asarray(xy, float)])
    is_mk = np.concatenate([np.ones(n, bool), np.zeros(len(xt), bool)])
    o = np.argsort(t_all, kind='stable')
    mk = [int(i) for i in np.flatnonzero(is_mk[o])]
    sns.lineplot(x=t_all[o], y=y_all[o], ax=ax, estimator=None, sort=False,
                 color=color, lw=lw, marker=marker, markevery=mk, ms=ms,
                 mfc=color if filled else 'none', mec=color, mew=1.8,
                 legend=False, clip_on=False)


def style(ax, xlim, xticks, grid, ylab_x=-0.099):
    ax.set_xlim(*xlim)
    ax.set_ylim(0, 1)
    ax.set_xticks(xticks)
    ax.set_xticklabels([str(v) for v in xticks])
    ax.set_yticks(y_ticks)
    ax.set_yticklabels(y_tick_labels)
    ax.tick_params(direction='in', length=10, width=1.5, top=True, right=True,
                   labelsize=28, colors='#222222')
    ax.tick_params(axis='x', pad=10)
    ax.tick_params(axis='y', pad=12)
    for s in ax.spines.values():
        s.set_visible(True)
        s.set_color('#222222')
        s.set_linewidth(1.6)
    if grid:
        ax.grid(True, color='#dedede', lw=1.5)
        ax.set_axisbelow(True)
    else:
        ax.grid(False)
    ax.set_xlabel('Time', fontsize=32, fontweight='bold')
    ax.set_ylabel('Proportion', fontsize=32, fontweight='bold')
    ax.xaxis.set_label_coords(0.5, -0.072)
    ax.yaxis.set_label_coords(ylab_x, 0.5)


def legend(ax, colors, markers, sizes, fills, labels, anchor, spacing):
    hs = [Line2D([], [], color=c, marker=m, ms=s, mfc=c if f else 'none', mec=c, mew=1.8, lw=2.0)
          for c, m, s, f in zip(colors, markers, sizes, fills)]
    lg = ax.legend(hs, labels, loc='upper left', bbox_to_anchor=anchor, fontsize=29,
                   frameon=True, fancybox=False, edgecolor='black', framealpha=1,
                   borderaxespad=0, handlelength=3.1, handletextpad=0.35,
                   labelspacing=spacing, borderpad=0.3)
    lg.get_frame().set_linewidth(1.5)
    return lg


fig = plt.figure(figsize=(W / 100, H / 100), dpi=100)
fig.patch.set_facecolor('white')

# ---- top row ----
top_boxes = [px_box(168, 1175, 88, 957), px_box(1598, 2587, 88, 957), px_box(3103, 4110, 88, 957)]
top_data = [
    [(gov_a_t, gov_a_y, gov_a_xt, gov_a_xy), (man_a_t, man_a_y, [], []),
     (rec_a_t, rec_a_y, rec_a_xt, rec_a_xy), (con_a_t, con_a_y, [], [])],
    [(gov_b_t, gov_b_y, gov_b_xt, gov_b_xy), (man_b_t, man_b_y, [], []),
     (rec_b_t, rec_b_y, rec_b_xt, rec_b_xy), (con_b_t, con_b_y, [], [])],
    [(gov_c_t, gov_c_y, gov_c_xt, gov_c_xy), (man_c_t, man_c_y, [], []),
     (rec_c_t, rec_c_y, rec_c_xt, rec_c_xy), (con_c_t, con_c_y, [], [])],
]
top_colors = [RED, BLUE, MAG, GRN]
top_markers = ['^', 'o', 's', 'd']
top_ms = [12, 11, 9, 13]
leg_x = [0.56, 0.561, 0.559]
ylab_pos = [-0.099, -0.089, -0.100]

for k in range(3):
    ax = fig.add_axes(top_boxes[k])
    for (t, y, xt, xy), c, m, s in zip(top_data[k], top_colors, top_markers, top_ms):
        draw(ax, t, y, xt, xy, c, m, s)
    style(ax, (0, 100), [0, 20, 40, 60, 80, 100], False, ylab_pos[k])
    ax.text(0.5, 1.031, titles_top[k], transform=ax.transAxes, ha='center',
            va='baseline', fontsize=35, fontweight='bold')
    legend(ax, top_colors, top_markers, top_ms, [False] * 4, players,
           (leg_x[k], 0.609), 0.12)

# ---- bottom row ----
bot_colors = [RED, BLUE, YEL, GRN, MAG]
bot_markers = ['^', 's', '*', 'd', 'o']
bot_ms = [12, 10, 13, 13, 12]
bot_fill = [False, False, True, False, False]

ax_d = fig.add_axes(px_box(922, 1928, 1362, 2231))
for t, y, xt, xy, c, m, s, f in zip([d1_t, d2_t, d3_t, d4_t, d5_t], [d1_y, d2_y, d3_y, d4_y, d5_y],
                                    d_ext_t, d_ext_y, bot_colors, bot_markers, bot_ms, bot_fill):
    draw(ax_d, t, y, xt, xy, c, m, s, f)
style(ax_d, (0, 5), [0, 1, 2, 3, 4, 5], True)
legend(ax_d, bot_colors, bot_markers, bot_ms, bot_fill, d_labels, (0.598, 0.69), 0.45)

ax_e = fig.add_axes(px_box(2429, 3437, 1362, 2231))
for t, y, xt, xy, c, m, s, f in zip([e1_t, e2_t, e3_t, e4_t, e5_t], [e1_y, e2_y, e3_y, e4_y, e5_y],
                                    e_ext_t, e_ext_y, bot_colors, bot_markers, bot_ms, bot_fill):
    draw(ax_e, t, y, xt, xy, c, m, s, f)
style(ax_e, (0, 6), [0, 2, 4, 6], True)
legend(ax_e, bot_colors, bot_markers, bot_ms, bot_fill, e_labels, (0.721, 0.69), 0.45)
ax_e.add_patch(Rectangle((0.165, 0.70), 0.385, 0.105, fill=False, ec='black', lw=1.5, zorder=5))
ax_e.annotate('', xy=(0.61, 0.687), xytext=(1.27, 0.52),
              arrowprops=dict(arrowstyle='-|>', color='black', lw=1.5, mutation_scale=50))

ax_in = fig.add_axes(px_box(2524, 2768, 1800, 1949))
for yy, c in zip(ins_y, bot_colors):
    sns.lineplot(x=ins_t, y=yy, ax=ax_in, color=c, lw=2.0, estimator=None, sort=False, legend=False)
ax_in.set_xlim(0.3, 0.4)
ax_in.set_ylim(0.7, 0.8)
ax_in.set_xticks([0.3, 0.35, 0.4])
ax_in.set_xticklabels(['0.3', '0.35', '0.4'])
ax_in.set_yticks([0.7, 0.75, 0.8])
ax_in.set_yticklabels(['0.7', '0.75', '0.8'])
ax_in.grid(True, color='#dedede', lw=1.5)
ax_in.tick_params(direction='in', length=6, width=1.2, labelsize=22, top=True, right=True)
ax_in.tick_params(axis='x', pad=9)
ax_in.tick_params(axis='y', pad=6)
for lab in ax_in.get_xticklabels() + ax_in.get_yticklabels():
    lab.set_fontfamily('Liberation Sans')
    lab.set_fontweight('bold')
for s in ax_in.spines.values():
    s.set_visible(True)
    s.set_color('#222222')
    s.set_linewidth(1.5)
ax_in.set_xlabel('')
ax_in.set_ylabel('')
ax_in.set_facecolor('white')

# ---- captions ----
cap_kw = dict(fontsize=51, fontweight='normal', va='baseline', ha='center', color='black')
fig.text(650 / W, 1 - 1163 / H, r'(a) The impact of $\mathsf{P_{u2}}$ = 15 on system evolu-', **cap_kw)
fig.text(648 / W, 1 - 1253 / H, 'tionary game.', **cap_kw)
fig.text(2078 / W, 1 - 1163 / H, r'($\mathbf{b}$) The impact of $\mathsf{P_{u2}}$ = 18 on system evolutionary', **cap_kw)
fig.text(2073 / W, 1 - 1253 / H, 'game.', **cap_kw)
fig.text(3589 / W, 1 - 1163 / H, r'($\mathbf{c}$) The impact of $\mathsf{P_{u2}}$ = 24 on system evolutionary', **cap_kw)
fig.text(3581 / W, 1 - 1253 / H, 'game.', **cap_kw)
fig.text(1405 / W, 1 - 2416 / H, r'($\mathbf{d}$) The impact of $\mathsf{C_u}$ and $\mathsf{P_{u1}}$ on consumer strategy.', **cap_kw)
fig.text(2915 / W, 1 - 2416 / H, r'($\mathbf{e}$) The impact of $\mathsf{S_u}$ on consumer strategy.', **cap_kw)

fig.savefig('out.png', dpi=100, facecolor='white')
